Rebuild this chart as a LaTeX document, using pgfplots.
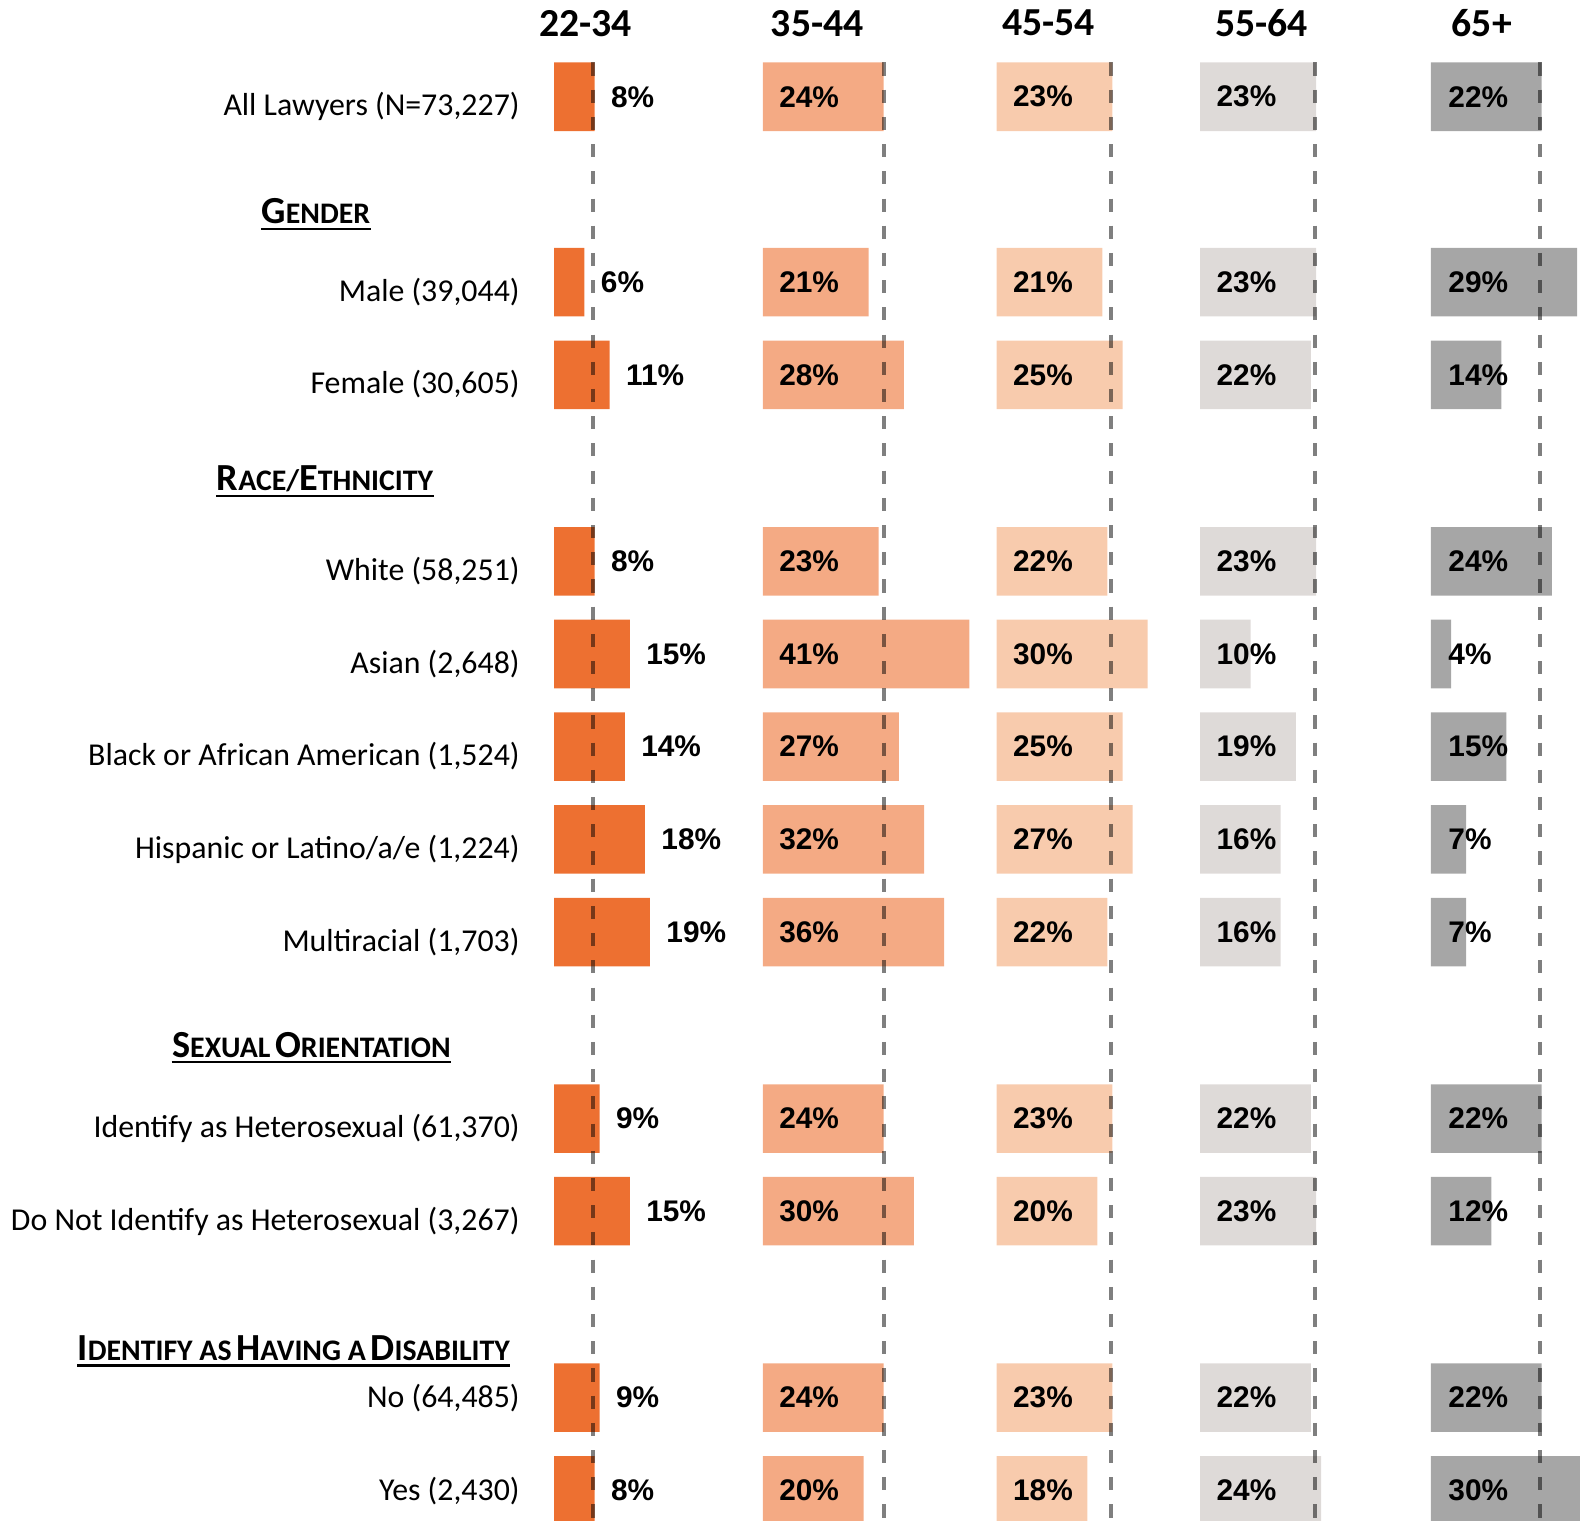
\documentclass[border=0pt]{standalone}
\usepackage{fontspec}
\setmainfont{Carlito}
\newfontfamily\valfont{Liberation Sans}
\usepackage{pgfplots}
\usepackage{pgfplotstable}
\pgfplotsset{compat=1.18}
\definecolor{cA}{HTML}{ED7031}
\definecolor{cB}{HTML}{F4AA84}
\definecolor{cC}{HTML}{F8CBAD}
\definecolor{cD}{HTML}{DEDAD8}
\definecolor{cE}{HTML}{A6A6A6}

\pgfplotstableread{
y a b c d e
96 8 24 23 23 22
280 6 21 21 23 29
372 11 28 25 22 14
557 8 23 22 23 24
649 15 41 30 10 4
741 14 27 25 19 15
833 18 32 27 16 7
925 19 36 22 16 7
1110 9 24 23 22 22
1202 15 30 20 23 12
1387 9 24 23 22 22
1479 8 20 18 24 30
}\data

\pgfplotsset{
  colaxis/.style={hide axis, clip=false, x=2.5pt, y=0.5pt, y dir=reverse,
    xmin=0, xmax=45, ymin=0, ymax=1509, anchor=north west},
  barstyle/.style={xbar, bar width=34pt, fill=#1, draw=none},
  valstyle/.style={point meta=explicit symbolic,
    nodes near coords={\pgfplotspointmeta\%},
    nodes near coords style={anchor=west, inner sep=0pt, xshift=#1,
      font=\valfont\bfseries\fontsize{14.8}{17}\selectfont, text=black}},
  dashline/.style={black, opacity=0.5, line width=2pt, dash pattern=on 6.5pt off 7pt, mark=none},
}
\newcommand\BL[1]{{\fontsize{19}{22}\selectfont #1}}
\newcommand\SL[1]{{\fontsize{14.8}{17}\selectfont #1}}

\begin{document}
\begin{tikzpicture}
% 22-34
\begin{axis}[colaxis, at={(275pt,0pt)}]
\addplot[barstyle=cA, valstyle=8pt] table[x=a, y=y, meta=a]{\data};
\addplot[dashline] coordinates {(7.7,62) (7.7,1509)};
\end{axis}
% 35-44
\begin{axis}[colaxis, at={(378.5pt,0pt)}]
\addplot[barstyle=cB] table[x=b, y=y]{\data};
\addplot[draw=none, mark=none, valstyle=8pt] table[x expr=0, y=y, meta=b]{\data};
\addplot[dashline] coordinates {(24,62) (24,1509)};
\end{axis}
% 45-54
\begin{axis}[colaxis, at={(494.5pt,0pt)}]
\addplot[barstyle=cC] table[x=c, y=y]{\data};
\addplot[draw=none, mark=none, valstyle=8pt] table[x expr=0, y=y, meta=c]{\data};
\addplot[dashline] coordinates {(22.8,62) (22.8,1509)};
\end{axis}
% 55-64
\begin{axis}[colaxis, at={(595.5pt,0pt)}]
\addplot[barstyle=cD] table[x=d, y=y]{\data};
\addplot[draw=none, mark=none, valstyle=8pt] table[x expr=0, y=y, meta=d]{\data};
\addplot[dashline] coordinates {(22.8,62) (22.8,1509)};
\end{axis}
% 65+
\begin{axis}[colaxis, at={(710pt,0pt)}]
\addplot[barstyle=cE] table[x=e, y=y]{\data};
\addplot[draw=none, mark=none, valstyle=8.5pt] table[x expr=0, y=y, meta=e]{\data};
\addplot[dashline] coordinates {(21.7,62) (21.7,1509)};
\end{axis}

\begin{scope}[x=0.5pt, y=-0.5pt]
% column headers
\begin{scope}[every node/.style={font=\bfseries\fontsize{19.7}{22}\selectfont, inner sep=0pt}]
\node at (581,23) {22-34};
\node at (811,23) {35-44};
\node at (1040.5,23) {45-54};
\node at (1252,23) {55-64};
\node at (1470.5,23) {65+};
\end{scope}
% row labels
\begin{scope}[every node/.style={font=\fontsize{15.8}{19}\selectfont, inner sep=0pt, anchor=base east}]
\node at (516,115) {All Lawyers (N=73,227)};
\node at (516,299) {Male (39,044)};
\node at (516,391) {Female (30,605)};
\node at (516,576) {White (58,251)};
\node at (516,668) {Asian (2,648)};
\node at (516,760) {Black or African American (1,524)};
\node at (516,852) {Hispanic or Latino/a/e (1,224)};
\node at (516,944) {Multiracial (1,703)};
\node at (516,1129) {Identify as Heterosexual (61,370)};
\node at (516,1221) {Do Not Identify as Heterosexual (3,267)};
\node at (516,1397) {No (64,485)};
\node at (516,1489) {Yes (2,430)};
\end{scope}
% section headers
\begin{scope}[every node/.style={font=\bfseries, inner sep=0pt, anchor=base}]
\node (h1) at (313.5,222) {\BL{G}\SL{ENDER}};
\node (h2) at (322.5,487) {\BL{R}\SL{ACE/}\BL{E}\SL{THNICITY}};
\node (h3) at (309,1049) {\BL{S}\SL{EXUAL} \BL{O}\SL{RIENTATION}};
\node (h4) at (291.5,1350) {\BL{I}\SL{DENTIFY AS} \BL{H}\SL{AVING A} \BL{D}\SL{ISABILITY}};
\end{scope}
\foreach \h in {h1,h2,h3,h4}{
  \draw[line width=1.2pt] ([yshift=-2.6pt]\h.base west) -- ([yshift=-2.6pt]\h.base east);
}
\end{scope}
\pgfresetboundingbox
\useasboundingbox (0pt,0pt) rectangle (784pt,-754.5pt);
\end{tikzpicture}
\end{document}
